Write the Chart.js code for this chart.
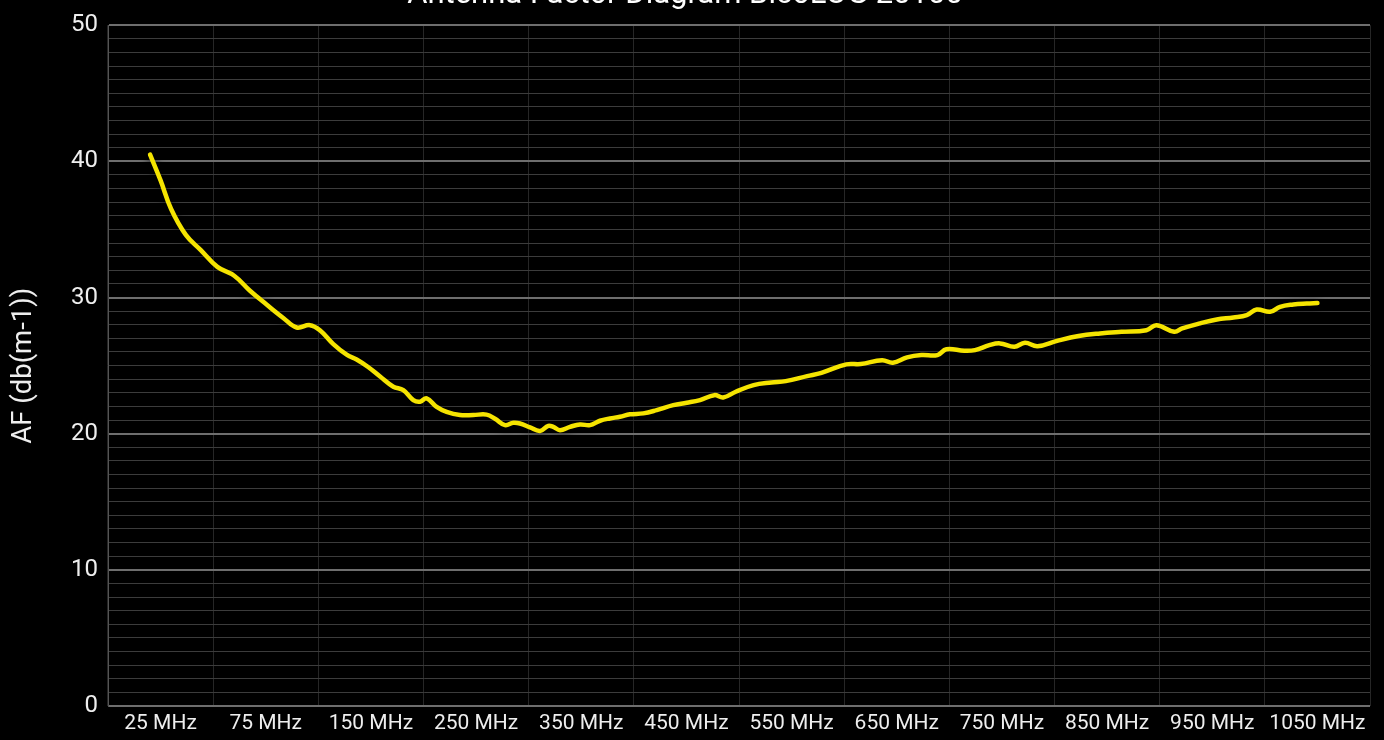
<!DOCTYPE html>
<html>
<head>
<meta charset="utf-8">
<script src="https://cdn.jsdelivr.net/npm/chart.js@4/dist/chart.umd.min.js"></script>
<style>
  html, body { margin: 0; padding: 0; background: #000; }
  #wrap { width: 1384px; height: 740px; position: relative; }
</style>
</head>
<body>
<div id="wrap"><canvas id="c"></canvas></div>
<script>
const titleText = 'Antenna Factor Diagram BicoLOG 20100';
const yTitle = 'AF (db(m-1))';
const tickLabels = ['25 MHz','75 MHz','150 MHz','250 MHz','350 MHz','450 MHz','550 MHz','650 MHz','750 MHz','850 MHz','950 MHz','1050 MHz'];
const tickFreqs = [25, 75, 150, 250, 350, 450, 550, 650, 750, 850, 950, 1050];

const freqs = [20,25,30,37,44,52,60,67.5,76,87.5,97,106.5,113.6,123,132.7,139.8,148,158.7,171.3,180.8,190.3,196.7,203,212.5,222,234.7,247.3,260,268,277.5,285.4,291.7,301.3,310.8,318.7,323.4,329.8,339.3,348.8,358.3,367.8,377.3,386.8,396.3,409,421.7,437.5,450.3,462.9,476.5,485,496.9,513.9,530.8,544.4,564.8,578.4,602.1,615.7,636.1,646.3,659.8,673.4,688.7,697.2,714.2,724.4,738,748.2,761.8,771.9,783.8,802.5,822.9,843.3,863.6,887.4,896.9,913.9,921.4,938.4,954.3,970.1,982.8,992.3,1005,1014.5,1027.1,1039.8,1050];
const afValues = [40.5,38.6,36.5,34.6,33.5,32.25,31.6,30.5,29.45,28.5,27.8,27.97,27.6,26.6,25.8,25.45,24.9,24.2,23.45,23.2,22.47,22.35,22.6,21.97,21.6,21.37,21.37,21.4,21.1,20.63,20.8,20.75,20.46,20.2,20.58,20.5,20.26,20.5,20.68,20.63,20.95,21.12,21.24,21.42,21.49,21.73,22.1,22.27,22.47,22.83,22.66,23.08,23.57,23.76,23.86,24.23,24.47,25.09,25.11,25.4,25.21,25.6,25.77,25.77,26.2,26.09,26.14,26.5,26.63,26.38,26.68,26.43,26.82,27.17,27.36,27.48,27.6,27.97,27.48,27.73,28.1,28.39,28.53,28.7,29.12,28.95,29.32,29.49,29.56,29.59];

// frequency -> position on the (non-uniform) label axis, label i centred at i+0.5
function freqToPos(f) {
  const n = tickFreqs.length;
  let k = 0;
  if (f <= tickFreqs[0]) k = 0;
  else if (f >= tickFreqs[n - 1]) k = n - 2;
  else { while (k < n - 2 && f > tickFreqs[k + 1]) k++; }
  return k + 0.5 + (f - tickFreqs[k]) / (tickFreqs[k + 1] - tickFreqs[k]);
}
const points = freqs.map((f, i) => ({ x: freqToPos(f), y: afValues[i] }));

const shadowPlugin = {
  id: 'lineShadow',
  beforeDatasetsDraw(chart) {
    const ctx = chart.ctx;
    ctx.save();
    ctx.shadowColor = 'rgba(0,0,0,0.9)';
    ctx.shadowBlur = 8;
    ctx.shadowOffsetY = 2;
  },
  afterDatasetsDraw(chart) { chart.ctx.restore(); }
};

new Chart(document.getElementById('c'), {
  type: 'line',
  data: {
    datasets: [{
      label: 'AF',
      data: points,
      xAxisID: 'f',
      yAxisID: 'y',
      borderColor: '#f5e400',
      borderWidth: 4.5,
      pointRadius: 0,
      tension: 0.4,
      fill: false,
      borderCapStyle: 'round',
      borderJoinStyle: 'round'
    }]
  },
  options: {
    responsive: true,
    maintainAspectRatio: false,
    animation: false,
    layout: { padding: { left: 0, right: 14, top: 0, bottom: 0 } },
    plugins: {
      legend: { display: false },
      tooltip: { enabled: false },
      title: {
        display: true,
        text: titleText,
        color: '#ffffff',
        font: { family: 'Roboto', size: 31, weight: 'normal' },
        padding: { top: -23, bottom: 11 }
      }
    },
    scales: {
      x: {
        type: 'category',
        labels: tickLabels,
        position: 'bottom',
        offset: true,
        border: { display: false },
        grid: { offset: true, color: '#262626', lineWidth: 1, drawTicks: false },
        ticks: { color: '#eeeeee', font: { family: 'Roboto', size: 21 }, padding: 5, autoSkip: false, maxRotation: 0 },
        afterFit(s) { s.height = 34; }
      },
      f: {
        type: 'linear',
        axis: 'x',
        position: 'bottom',
        display: false,
        min: 0,
        max: 12
      },
      y: {
        type: 'linear',
        min: 0,
        max: 50,
        border: { display: true, color: '#555555', width: 1 },
        grid: {
          drawTicks: false,
          color: c => (c.tick && c.tick.value % 10 === 0) ? '#6e6e6e' : '#3c3c3c',
          lineWidth: c => (c.tick && c.tick.value % 10 === 0) ? 2 : 1
        },
        ticks: {
          stepSize: 1,
          autoSkip: false,
          color: '#eeeeee',
          font: { family: 'Roboto', size: 24 },
          padding: 10,
          callback: v => (v % 10 === 0 ? String(v) : '')
        },
        title: {
          display: true,
          text: yTitle,
          color: '#eeeeee',
          font: { family: 'Roboto', size: 27.5 },
          padding: { top: 8, bottom: 0 }
        },
        afterFit(s) { s.width = 108; }
      }
    }
  },
  plugins: [shadowPlugin]
});
</script>
</body>
</html>
